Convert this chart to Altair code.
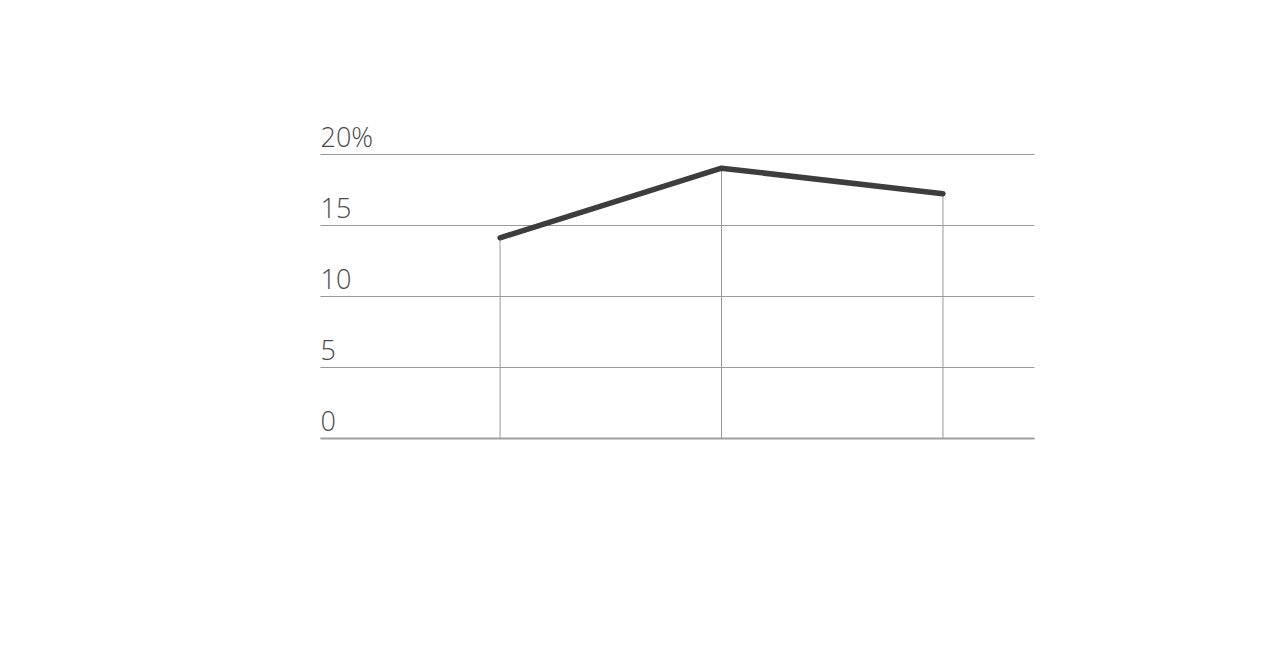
import altair as alt
import pandas as pd

xs = [1, 2, 3]
values = [14.1, 19.0, 17.2]
y_ticks = [0, 5, 10, 15, 20]

df = pd.DataFrame({"x": xs, "v": values})

xscale = alt.Scale(domain=[0.187, 3.411], nice=False, zero=False)
yscale = alt.Scale(domain=[0, 20], nice=False)

base = alt.Chart(df)

rules = base.mark_rule(color="#999999", strokeWidth=1).encode(
    x=alt.X("x:Q", scale=xscale,
            axis=alt.Axis(labels=False, ticks=False, grid=False, title=None,
                          domain=True, domainColor="#a0a0a0", domainWidth=2)),
    y=alt.Y("v:Q", scale=yscale,
            axis=alt.Axis(values=y_ticks, title=None, ticks=False, tickSize=0,
                          domain=False, grid=True, gridColor="#999999", gridWidth=1,
                          labelAlign="left", labelBaseline="alphabetic",
                          labelPadding=0, labelOffset=-8,
                          labelFont="Open Sans", labelFontWeight=300, labelFontSize=27,
                          labelColor="#4a4a4a",
                          labelExpr="datum.value == 20 ? '20%' : datum.label")),
    y2=alt.datum(0),
)

line = base.mark_line(color="#3d3d3d", strokeWidth=5.5, strokeCap="round",
                      strokeJoin="round").encode(
    x=alt.X("x:Q", scale=xscale),
    y=alt.Y("v:Q", scale=yscale),
)

chart = alt.layer(rules, line).properties(
    width=714, height=284,
    autosize=alt.AutoSizeParams(type="none"),
    padding={"left": 312, "top": 146, "right": 10, "bottom": 10},
).configure(background="white").configure_view(stroke=None)

chart.save("out.html", embed_options={"renderer": "svg", "actions": False})
